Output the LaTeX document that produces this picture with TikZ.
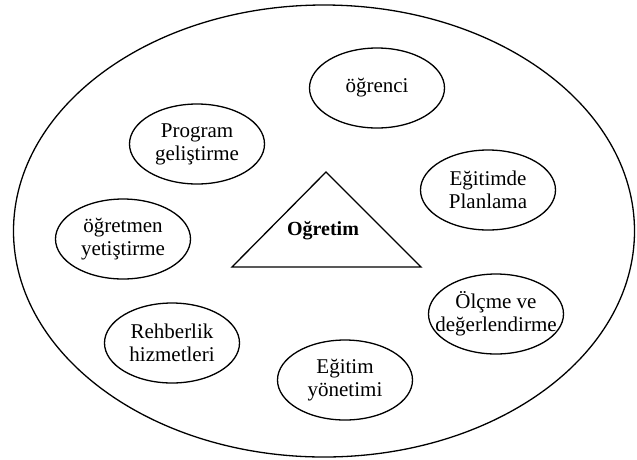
\documentclass[tikz,border=0pt]{standalone}
\usepackage{fontspec}
\setmainfont{Liberation Serif}
\usetikzlibrary{shapes.geometric}
\begin{document}
\begin{tikzpicture}[x=1pt,y=-1pt,line width=1.3pt,
  small/.style={draw,ellipse,minimum width=135pt,minimum height=80pt,inner sep=0pt},
  txt/.style={inner sep=0pt,align=center,font=\fontsize{21}{23}\selectfont},
  outer/.style={draw,ellipse,minimum width=621pt,minimum height=452pt,inner sep=0pt}]
\useasboundingbox (0,0) rectangle (637,459);
\node[outer] (big) at (324,231) {};
\node[small] (ogrenci) at (377,88) {};
\node[small] (program) at (197,144) {};
\node[small] (planlama) at (488,190) {};
\node[small] (ogretmen) at (123,239) {};
\node[small] (olcme) at (496,314) {};
\node[small] (rehber) at (172,343) {};
\node[small] (yonetim) at (345,380) {};
\node[txt] (ogrenci-t) at (ogrenci) {öğrenci};
\node[txt] (program-t) at (program) {Program\\geliştirme};
\node[txt] (planlama-t) at (planlama) {Eğitimde\\Planlama};
\node[txt] (ogretmen-t) at (ogretmen) {öğretmen\\yetiştirme};
\node[txt] (olcme-t) at (olcme) {Ölçme ve\\değerlendirme};
\node[txt] (rehber-t) at (rehber) {Rehberlik\\hizmetleri};
\node[txt] (yonetim-t) at (yonetim) {Eğitim\\yönetimi};
\coordinate (apex) at (326,172);
\coordinate (bl) at (232,267);
\coordinate (br) at (421,267);
\draw (apex) -- (br) -- (bl) -- cycle;
\node[font=\fontsize{20}{23}\selectfont\bfseries] (ogretim) at (323,231) {Oğretim};
\end{tikzpicture}
\end{document}
